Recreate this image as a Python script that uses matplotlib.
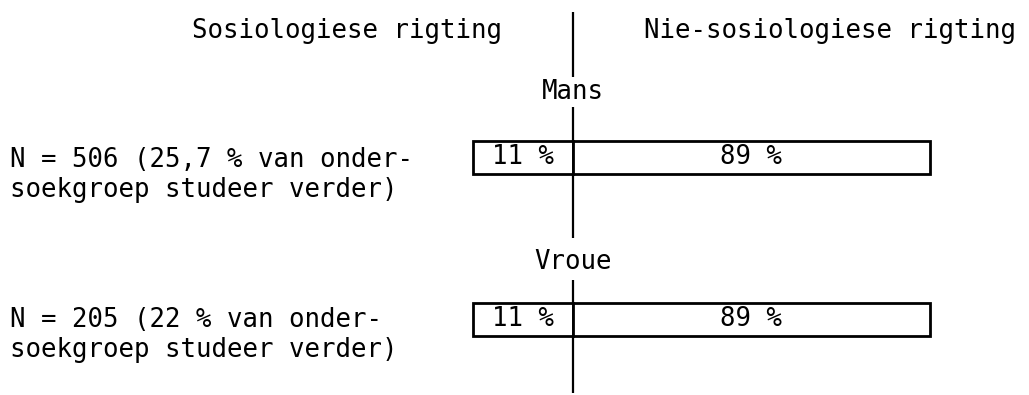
import matplotlib
matplotlib.use("Agg")
import matplotlib.pyplot as plt

# ---- data ----
groups = ["Mans", "Vroue"]
sosio = [11, 11]               # percent sociological direction
nie_sosio = [89, 89]           # percent non-sociological direction
left_labels = ["N = 506 (25,7 % van onder-\nsoekgroep studeer verder)",
               "N = 205 (22 % van onder-\nsoekgroep studeer verder)"]
header_left = "Sosiologiese rigting"
header_right = "Nie-sosiologiese rigting"

W, H = 1029, 395
FONT = "DejaVu Sans Mono"
FS = 18.5

fig = plt.figure(figsize=(W / 100, H / 100), dpi=100)
bg = fig.add_axes([0, 0, 1, 1])
bg.set_xlim(0, W)
bg.set_ylim(H, 0)
bg.axis("off")

def fx(px):
    return px / W

def fy(py):
    return 1 - py / H

# central axis line segments (pixel layout)
cx = 573
for y0, y1 in [(12, 77), (107, 141), (174, 238), (280, 303), (336, 393)]:
    bg.plot([cx, cx], [y0, y1], color="black", lw=1.6, solid_capstyle="butt")

bg.text(347, 31, header_left, ha="center", va="center", fontsize=FS, family=FONT)
bg.text(830, 31, header_right, ha="center", va="center", fontsize=FS, family=FONT)

group_label_y = [92, 262]
for g, gy in zip(groups, group_label_y):
    bg.text(cx, gy, g, ha="center", va="center", fontsize=FS, family=FONT)

label_baseline = [167, 327]
for lab, by in zip(left_labels, label_baseline):
    l1, l2 = lab.split("\n")
    bg.text(10, by, l1, ha="left", va="baseline", fontsize=FS, family=FONT)
    bg.text(10, by + 30, l2, ha="left", va="baseline", fontsize=FS, family=FONT)

# bar axes
top_px, bot_px = 141, 336
bar_h = 33 / 162
pos = list(range(len(groups)))
ylim = (len(groups) - 1 + bar_h / 2, -bar_h / 2)

axL = fig.add_axes([fx(473), fy(bot_px), fx(cx - 473), (bot_px - top_px) / H])
axR = fig.add_axes([fx(cx), fy(bot_px), fx(930 - cx), (bot_px - top_px) / H])
for ax in (axL, axR):
    ax.axis("off")
    ax.set_ylim(*ylim)
    ax.patch.set_alpha(0)

axL.set_xlim(max(sosio), 0)
axR.set_xlim(0, max(nie_sosio))

bl = axL.barh(pos, sosio, height=bar_h, color="white", edgecolor="black", linewidth=2.0)
br = axR.barh(pos, nie_sosio, height=bar_h, color="white", edgecolor="black", linewidth=2.0)
for b in list(bl) + list(br):
    b.set_clip_on(False)

for p, v in zip(pos, sosio):
    axL.text(v / 2, p, f"{v} %", ha="center", va="center", fontsize=FS, family=FONT)
for p, v in zip(pos, nie_sosio):
    axR.text(v / 2, p, f"{v} %", ha="center", va="center", fontsize=FS, family=FONT)

fig.savefig("out.png", dpi=100, facecolor="white")
